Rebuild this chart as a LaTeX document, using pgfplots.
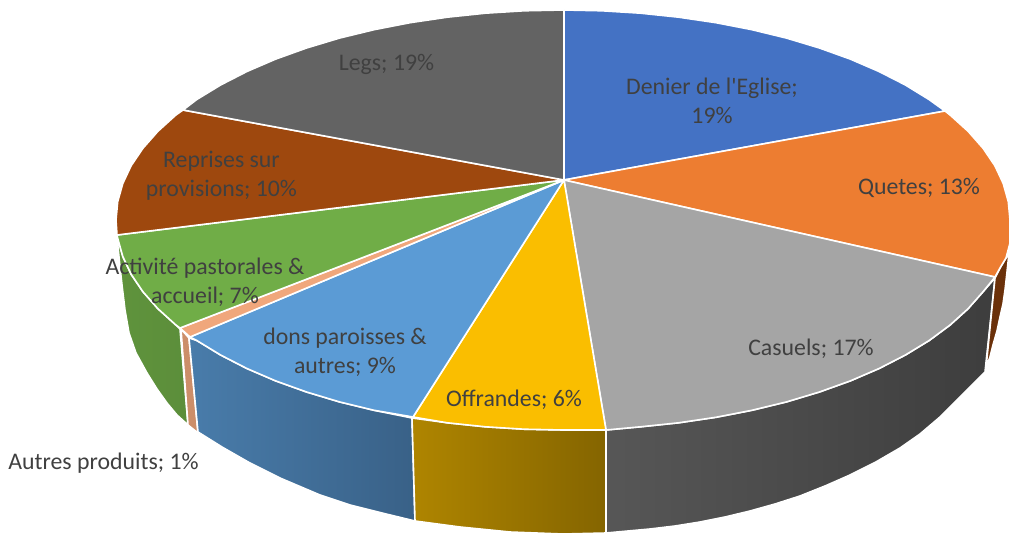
\documentclass[border=0pt]{standalone}
\usepackage{fontspec}
\setmainfont{Carlito}[Ligatures=TeXOff]
\usepackage{pgfplots}
\pgfplotsset{compat=1.18}
\definecolor{cBlue}{HTML}{4472C4}
\definecolor{cOrange}{HTML}{ED7D31}
\definecolor{cGrey}{HTML}{A5A5A5}
\definecolor{cYellow}{HTML}{FABE00}
\definecolor{cLBlue}{HTML}{5B9BD5}
\definecolor{cGreen}{HTML}{70AD47}
\definecolor{cPeach}{HTML}{F0A77C}
\definecolor{cBrown}{HTML}{9E480E}
\definecolor{cDGrey}{HTML}{636363}
\definecolor{cText}{HTML}{404040}
\tikzset{lab/.style={text=cText, align=center, inner sep=0pt, font=\fontsize{23.8}{29}\selectfont}}
\begin{document}
\begin{tikzpicture}
\useasboundingbox (0,0) rectangle (1010pt,535pt);
\begin{axis}[
  hide axis, scale only axis, width=1010pt, height=535pt,
  xmin=0, xmax=1010, ymin=0, ymax=535, y dir=reverse,
  no markers,
  every axis plot/.append style={draw=white, line width=1.6pt, line join=round},
]
% side walls
\addplot[left color=cGreen!85!black, right color=cGreen!82!black] coordinates {
 (117,235)(117.7,238.3)(122.8,256.5)(131.2,274.4)(143,291.8)(157.9,308.7)(175.9,325)(180,329)(188,425)(177,415)(167,403)(157,389)(147,373)(136,353)(129,333)(125,310)(122,285)(120,267)(118,247)} --cycle;
\addplot[fill=cPeach!85!black] coordinates {(181,329)(189,338)(198,433)(188,425)} --cycle;
\addplot[left color=cLBlue!80!black, right color=cLBlue!62!black!95!cBlue] coordinates {
 (189,338)(196.8,340.5)(220.6,355)(246.9,368.5)(275.7,380.9)(306.6,392)(339.5,401.9)(374.1,410.3)(412,418)(415,521)(382,513)(350,505)(320,495)(280,478)(250,463)(222,447)(198,432)} --cycle;
\addplot[left color=cYellow!70!black, right color=cYellow!53!black] coordinates {
 (412,418)(447.3,422.8)(485.4,426.8)(524,429.2)(563,430)(606,430)(606,533)(563,534)(510,532)(460,527)(415,521)} --cycle;
\addplot[left color=black!66, right color=black!76] coordinates {
 (606,430)(640.6,426.8)(678.7,422.8)(715.9,417.3)(751.9,410.3)(786.5,401.9)(819.4,392)(850.3,380.9)(879.1,368.5)(905.4,355)(929.2,340.5)(950.1,325)(968.1,308.7)(983,291.8)(995,278)(985,372)(965,392)(940,417)(920,434)(900,448)(875,462.5)(850,475)(825,486)(800,496)(775,504)(750,511)(725,517)(700,522)(675,526)(650,529)(628,531)(606,533)} --cycle;
\addplot[fill=cBrown!68!black] coordinates {(995,278)(1000,268)(1006,258)(1009,253)(1007,272)(1005,290)(1003,304)(1000,317)(997,331)(993,345)(990,357)(986,368)} --cycle;
% top slices
\addplot[fill=cBlue] coordinates {(564,180)(564,10)(602,10.8)(640.6,13.2)(678.7,17.2)(715.9,22.7)(752,29.7)(786.5,38.1)(819.4,48)(850.3,59.1)(879,71.5)(905.4,85)(929,99.5)(945,111)} --cycle;
\addplot[fill=cOrange] coordinates {(564,180)(945,111)(950.1,115)(968.1,131.3)(983,148.2)(994.8,165.6)(1003.2,183.5)(1008.3,201.7)(1010,220)(1010,243)(1006,258)(1000,268)(995,277)} --cycle;
\addplot[fill=cGrey] coordinates {(564,180)(995,277)(983,291.8)(968.1,308.7)(950.1,325)(929.2,340.5)(905.4,355)(879.1,368.5)(850.3,380.9)(819.4,392)(786.5,401.9)(751.9,410.3)(715.9,417.3)(678.7,422.8)(640.6,426.8)(606,430)} --cycle;
\addplot[fill=cYellow] coordinates {(564,180)(606,430)(585,430)(563,430)(524,429.2)(485.4,426.8)(447.3,422.8)(413,417)} --cycle;
\addplot[fill=cLBlue] coordinates {(564,180)(413,417)(374.1,410.3)(339.5,401.9)(306.6,392)(275.7,380.9)(246.9,368.5)(220.6,355)(196.8,340.5)(190,337)} --cycle;
\addplot[fill=cPeach] coordinates {(564,180)(190,337)(180,328)} --cycle;
\addplot[fill=cGreen] coordinates {(564,180)(180,328)(175.9,325)(157.9,308.7)(143,291.8)(131.2,274.4)(122.8,256.5)(117.7,238.3)(117,235)} --cycle;
\addplot[fill=cBrown] coordinates {(564,180)(117,235)(116,220)(117.7,201.7)(122.8,183.5)(131.2,165.6)(143,148.2)(157.9,131.3)(175.9,115)(183,110)} --cycle;
\addplot[fill=cDGrey] coordinates {(564,180)(183,110)(196.8,99.5)(220.6,85)(246.9,71.5)(275.7,59.1)(306.6,48)(339.5,38.1)(374.1,29.7)(410.1,22.7)(447.3,17.2)(485.4,13.2)(524,10.8)(564,10)} --cycle;
% labels
\node[lab] at (axis cs:712,100.5) {Denier de l'Eglise;\\19\%};
\node[lab] at (axis cs:919,188) {Quetes; 13\%};
\node[lab] at (axis cs:811,349) {Casuels; 17\%};
\node[lab] at (axis cs:514,400) {Offrandes; 6\%};
\node[lab] at (axis cs:345,352) {dons paroisses \&\\autres; 9\%};
\node[lab] at (axis cs:205,282) {Activité pastorales \&\\accueil; 7\%};
\node[lab] at (axis cs:103.5,463) {Autres produits; 1\%};
\node[lab] at (axis cs:221.5,176) {Reprises sur\\provisions; 10\%};
\node[lab] at (axis cs:386.5,64) {Legs; 19\%};
\end{axis}
\end{tikzpicture}
\end{document}
